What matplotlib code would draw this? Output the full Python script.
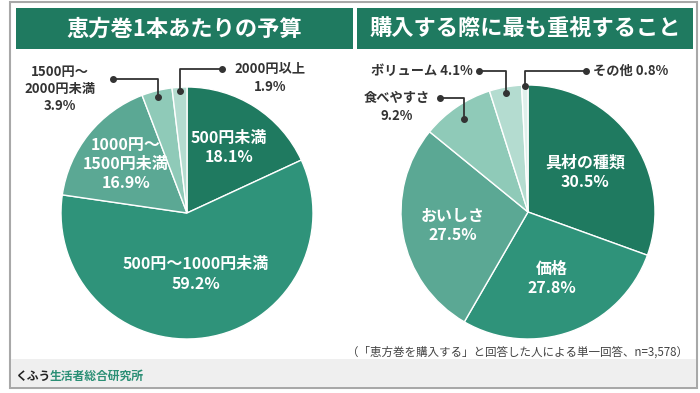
"""
恵方巻アンケート - 予算と重視点の円グラフ
"""

import numpy as np
import matplotlib
matplotlib.use('Agg')
import matplotlib.pyplot as plt
from matplotlib.patches import Rectangle

plt.rcParams['font.family'] = ['Noto Sans CJK JP', 'DejaVu Sans']

# データ
budget_labels = ['500円未満', '500円〜1000円未満', '1000円〜\n1500円未満', '1500円〜\n2000円未満', '2000円以上']
budget_values = [18.1, 59.2, 16.9, 3.9, 1.9]

focus_labels = ['具材の種類', '価格', 'おいしさ', '食べやすさ', 'ボリューム', 'その他']
focus_values = [30.5, 27.8, 27.5, 9.2, 4.1, 0.8]

titles = ['恵方巻1本あたりの予算', '購入する際に最も重視すること']
note_text = '（「恵方巻を購入する」と回答した人による単一回答、n=3,578）'

GREEN = '#1f7a60'
slice_colors = ['#1f7a60', '#2f937a', '#5ba894', '#8fcab8', '#b4dcd0', '#dff0eb']

W, H = 700, 393


def py(y):
    """画像座標(上が0)をプロット座標に変換"""
    return H - y


def mid_angles(values):
    total = sum(values)
    cum = np.cumsum([0] + list(values))[:-1]
    return [90 - 360 * (c + v / 2) / total for c, v in zip(cum, values)]


def polar(cx, cy, r, ang, frac):
    a = np.deg2rad(ang)
    return cx + r * frac * np.cos(a), py(cy) + r * frac * np.sin(a)


fig = plt.figure(figsize=(7, 3.93), dpi=100)
ax = fig.add_axes([0, 0, 1, 1])

# 枠とバナー
ax.add_patch(Rectangle((10, py(388)), 687, 386, facecolor='white', edgecolor='#a8a8a8', lw=1.5, zorder=0))
ax.add_patch(Rectangle((10.8, py(387.2)), 685.4, 28.2, facecolor='#efefef', edgecolor='none', zorder=1))
ax.add_patch(Rectangle((16, py(49)), 337, 41, facecolor=GREEN, edgecolor='none', zorder=1))
ax.add_patch(Rectangle((357, py(49)), 336, 41, facecolor=GREEN, edgecolor='none', zorder=1))
ax.text(184.5, py(29), titles[0], color='white', fontsize=16, fontweight='bold', ha='center', va='center')
ax.text(525, py(29), titles[1], color='white', fontsize=16, fontweight='bold', ha='center', va='center')

# 円グラフ
pies = [
    dict(values=budget_values, labels=budget_labels, cx=187, cy=213, r=126),
    dict(values=focus_values, labels=focus_labels, cx=528, cy=212, r=127),
]
for p in pies:
    ax.pie(p['values'], colors=slice_colors[:len(p['values'])], startangle=90, counterclock=False,
           center=(p['cx'], py(p['cy'])), radius=p['r'],
           wedgeprops=dict(edgecolor='white', linewidth=1.0), frame=True)

# 内側ラベル
inner = [
    (pies[0], [0, 1, 2], [0.62, 0.49, 0.62]),
    (pies[1], [0, 1, 2], [0.55, 0.56, 0.60]),
]
for p, idx, dists in inner:
    angs = mid_angles(p['values'])
    for i, d in zip(idx, dists):
        x, y = polar(p['cx'], p['cy'], p['r'], angs[i], d)
        ax.text(x, y, f"{p['labels'][i]}\n{p['values'][i]}%", color='white', fontsize=11.5,
                fontweight='bold', ha='center', va='center', linespacing=1.25)

# 外側ラベル (引き出し線)
# (pie, index, dot radius, line y, line end x, text x, text y, ha, one line?)
outer = [
    (pies[0], 3, 0.95, 79, 113, 60, 89, 'center', False),
    (pies[0], 4, 0.97, 69, 222, 270, 78, 'center', False),
    (pies[1], 4, 0.95, 71, 479, 473, 71, 'right', True),
    (pies[1], 5, 0.99, 71, 586, 593, 71, 'left', True),
    (pies[1], 3, 0.89, 98, 440, 397, 107, 'center', False),
]
for p, i, dr, ly, lx, tx, ty, ha, single in outer:
    angs = mid_angles(p['values'])
    x0, y0 = polar(p['cx'], p['cy'], p['r'], angs[i], dr)
    ax.plot([x0, x0, lx], [y0, py(ly), py(ly)], color='#333333', lw=1.3, zorder=5)
    ax.plot([x0, lx], [y0, py(ly)], 'o', color='#333333', ms=4, zorder=5)
    sep = ' ' if single else '\n'
    ax.text(tx, py(ty), f"{p['labels'][i]}{sep}{p['values'][i]}%", color='#333333', fontsize=9.5,
            fontweight='bold', ha=ha, va='center', linespacing=1.3)

# 注記とフッター
ax.text(688, py(352), note_text, color='#444444', fontsize=8.3, ha='right', va='center')
ax.text(15, py(376), 'くふう', color='#222222', fontsize=8.5, fontweight='bold', ha='left', va='center')
ax.text(50, py(376), '生活者総合研究所', color='#2b8f75', fontsize=8.5, fontweight='bold', ha='left', va='center')

ax.set_xlim(0, W)
ax.set_ylim(0, H)
ax.set_aspect('auto')
ax.axis('off')

plt.savefig('out.png', dpi=100)
